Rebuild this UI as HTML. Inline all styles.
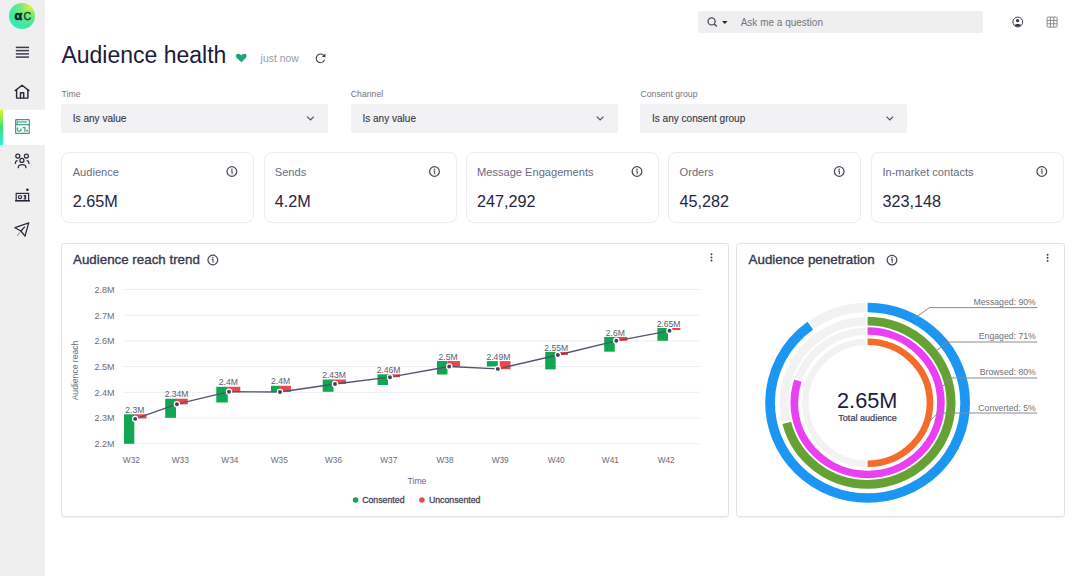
<!DOCTYPE html>
<html><head><meta charset="utf-8"><title>Audience health</title>
<style>
*{margin:0;padding:0;box-sizing:border-box}
html,body{width:1080px;height:576px;overflow:hidden;background:#fff}
body{position:relative;font-family:"Liberation Sans",sans-serif;color:#1e1e3a}
.a{position:absolute;white-space:nowrap;line-height:1}
#side{position:absolute;left:0;top:0;width:45px;height:576px;background:#efefef}
#active{position:absolute;left:0;top:109.5px;width:45px;height:35px;background:#fff}
#activebar{position:absolute;left:0;top:109.5px;width:2.5px;height:35px;background:linear-gradient(#e2f51e,#36e27a 50%,#2ef0dc)}
#logo{position:absolute;left:9.2px;top:3px;width:25.6px;height:25.6px;border-radius:50%;background:radial-gradient(circle at 80% 15%,#d8f040 0%,#6ee880 35%,#3ee8a8 65%,#30ecc4 100%)}
.search{position:absolute;left:698px;top:11px;width:285px;height:22px;background:#efeff0;border-radius:2px}
.dd{position:absolute;top:104px;width:267px;height:29px;background:#f2f2f5;border-radius:1px}
.lbl{font-size:8.7px;color:#75757c}
.ddt{font-size:10.05px;color:#38383e;-webkit-text-stroke:0.12px #38383e}
.card{position:absolute;top:151.5px;width:193px;height:71px;border:1px solid #ededf1;border-radius:8px;background:#fff}
.kl{font-size:11.1px;color:#6a6a80}
.kv{font-size:16.2px;color:#262640}
.panel{position:absolute;top:243px;height:273.8px;border:1.5px solid #e4e4e6;border-radius:3.5px;background:#fff;box-shadow:0 0.6px 0.8px rgba(0,0,0,0.05)}
.pt{font-size:13.35px;color:#36364e;-webkit-text-stroke:0.35px #36364e}
</style></head><body>

<div id="side"></div>
<div id="active"></div>
<div id="activebar"></div>
<div id="logo"></div>

<div class="search"></div>
<div class="a" style="left:740.7px;top:18.2px;font-size:10px;color:#74747f">Ask me a question</div>

<div class="a" style="left:61.4px;top:44.3px;font-size:23px;color:#1c1c3a">Audience health</div>
<div class="a" style="left:260.6px;top:53.5px;font-size:10.4px;color:#9c9ca2">just now</div>

<div class="a lbl" style="left:61.6px;top:89.8px">Time</div>
<div class="a lbl" style="left:350.8px;top:89.8px">Channel</div>
<div class="a lbl" style="left:640.5px;top:89.8px">Consent group</div>
<div class="dd" style="left:61px"></div>
<div class="dd" style="left:350.6px"></div>
<div class="dd" style="left:640.3px"></div>
<div class="a ddt" style="left:72.8px;top:114.4px">Is any value</div>
<div class="a ddt" style="left:362.4px;top:114.4px">Is any value</div>
<div class="a ddt" style="left:652px;top:114.4px">Is any consent group</div>

<div class="card" style="left:61px"></div>
<div class="card" style="left:263.7px"></div>
<div class="card" style="left:465.7px"></div>
<div class="card" style="left:668.4px"></div>
<div class="card" style="left:871.3px"></div>
<div class="a kl" style="left:72.7px;top:166.6px">Audience</div>
<div class="a kv" style="left:72.7px;top:192.9px">2.65M</div>
<div class="a kl" style="left:274.8px;top:166.6px">Sends</div>
<div class="a kv" style="left:274.8px;top:192.9px">4.2M</div>
<div class="a kl" style="left:477px;top:166.6px">Message Engagements</div>
<div class="a kv" style="left:477px;top:192.9px">247,292</div>
<div class="a kl" style="left:679.6px;top:166.6px">Orders</div>
<div class="a kv" style="left:679.6px;top:192.9px">45,282</div>
<div class="a kl" style="left:882.4px;top:166.6px">In-market contacts</div>
<div class="a kv" style="left:882.4px;top:192.9px">323,148</div>

<div class="panel" style="left:60.6px;width:668px"></div>
<div class="panel" style="left:736px;width:329px"></div>
<div class="a pt" style="left:73px;top:253.1px">Audience reach trend</div>
<div class="a pt" style="left:748.6px;top:253.1px">Audience penetration</div>

<svg class="a" style="left:0;top:0" width="1080" height="576" viewBox="0 0 1080 576">
<style>.ax{font-size:8.6px;fill:#6b6b78}.ay{font-size:9px;fill:#6b6b78}.axw{font-size:8.3px;fill:#6b6b78}.vl{font-size:8.6px;fill:#5c5c70}.dl{font-size:8.7px;fill:#707074}.lg{font-size:8.75px;fill:#45455a;stroke:#45455a;stroke-width:0.3}text{font-family:"Liberation Sans",sans-serif}</style>
<defs>
<g id="info"><circle r="4.85" fill="none" stroke="#484858" stroke-width="1.25"/><circle cx="0" cy="-2.2" r="0.8" fill="#484858"/><path d="M-1.1,-0.5 H0.2 V2.7" fill="none" stroke="#484858" stroke-width="1.05"/></g>
</defs>
<use href="#info" x="231.9" y="171.5"/>
<use href="#info" x="434.5" y="171.5"/>
<use href="#info" x="637" y="171.5"/>
<use href="#info" x="839.2" y="171.5"/>
<use href="#info" x="1041.8" y="171.5"/>
<use href="#info" x="212.8" y="260"/>
<use href="#info" x="892" y="260.1"/>
<!-- chevrons -->
<g fill="none" stroke="#505058" stroke-width="1.2">
<polyline points="307.2,116.6 310.5,119.9 313.8,116.6"/>
<polyline points="596.8,116.6 600.1,119.9 603.4,116.6"/>
<polyline points="886.5,116.6 889.8,119.9 893.1,116.6"/>
</g>
<!-- heart -->
<path d="M241.3,62.3 L237,58.2 C235.4,56.7 235.6,54.1 237.9,53.8 C239.4,53.6 240.7,54.5 241.3,55.5 C241.9,54.5 243.2,53.6 244.7,53.8 C247,54.1 247.2,56.7 245.6,58.2 Z" fill="#1fa574"/>
<!-- refresh -->
<g fill="none" stroke="#3a3a48" stroke-width="1.05">
<path d="M324.2,56.2 A4.3,4.3 0 1 0 324.6,59.6"/>
</g>
<path d="M325.4,53.6 L325.4,57.2 L322,56.8 Z" fill="#3a3a48"/>
<!-- search -->
<circle cx="711.6" cy="21.4" r="3.5" fill="none" stroke="#4a4a58" stroke-width="1.3"/>
<line x1="714.2" y1="24" x2="716.8" y2="26.6" stroke="#4a4a58" stroke-width="1.4"/>
<path d="M722,21 L727.6,21 L724.8,24 Z" fill="#2a2a38"/>
<!-- user -->
<circle cx="1017.8" cy="22" r="4.9" fill="none" stroke="#3a3a4c" stroke-width="1"/>
<circle cx="1017.6" cy="20.6" r="1.7" fill="#3a3a4c"/>
<path d="M1014.6,25.2 C1015.4,23.6 1020.2,23.6 1021,25.2 A4.6,4.6 0 0 1 1014.6,25.2 Z" fill="#3a3a4c"/>
<!-- grid -->
<g fill="none" stroke="#6a6a74" stroke-width="0.75">
<rect x="1047.1" y="17.1" width="10" height="10" rx="0.8"/>
<line x1="1050.43" y1="17.1" x2="1050.43" y2="27.1"/><line x1="1053.77" y1="17.1" x2="1053.77" y2="27.1"/>
<line x1="1047.1" y1="20.43" x2="1057.1" y2="20.43"/><line x1="1047.1" y1="23.77" x2="1057.1" y2="23.77"/>
</g>
<!-- logo text -->
<text x="14.4" y="20.2" style="font-size:12.5px;font-weight:bold;fill:#0a1c2c;stroke:#0a1c2c;stroke-width:0.6">&#945;</text>
<text x="23.4" y="20.1" style="font-size:10.6px;fill:#0b4a36;stroke:#0b4a36;stroke-width:0.45">C</text>
<!-- hamburger -->
<g stroke="#3a3a55" stroke-width="1.5">
<line x1="15.8" y1="47.4" x2="29" y2="47.4"/><line x1="15.8" y1="50.6" x2="29" y2="50.6"/><line x1="15.8" y1="53.9" x2="29" y2="53.9"/><line x1="15.8" y1="57.1" x2="29" y2="57.1"/>
</g>
<!-- home -->
<g fill="none" stroke="#2a2a3e" stroke-width="1.45" stroke-linejoin="round" stroke-linecap="round">
<path d="M15.2,90.6 L22.07,85.3 L28.9,90.6"/>
<path d="M16.6,89.6 V98.1 H27.9 V89.6"/>
<path d="M20.5,98.1 V92.7 H23.7 V98.1"/>
</g>
<!-- dashboard (active) -->
<g fill="none" stroke="#3c9e84" stroke-width="1.2">
<rect x="15.6" y="119.6" width="13.7" height="13.7" rx="0.6"/>
<line x1="15.6" y1="124.7" x2="29.3" y2="124.7"/>
<line x1="18.2" y1="122" x2="26.9" y2="122"/>
<line x1="17.2" y1="120.6" x2="17.2" y2="124.6"/>
<path d="M18.2,127.6 A1.9,1.9 0 1 0 20.8,128.4"/>
<path d="M22.6,127.7 H24.9 V131.7"/>
<rect x="26.3" y="129.8" width="1.5" height="1.8" fill="#3c9e84" stroke="none"/>
</g>
<!-- audience -->
<g fill="none" stroke="#2a2a3e" stroke-width="1.25" stroke-linecap="round">
<circle cx="17.8" cy="156" r="2"/><circle cx="26.4" cy="156" r="2"/><circle cx="21.9" cy="160.4" r="2"/>
<path d="M15.3,163.4 C15.3,161.8 16,160.9 17.2,160.7"/>
<path d="M29,163.4 C29,161.8 28.3,160.9 27.1,160.7"/>
<path d="M18.3,167.7 C18.3,165.6 19.8,164.6 22.1,164.6 C24.4,164.6 26,165.6 26,167.7"/>
</g>
<!-- campaign -->
<g fill="none" stroke="#2a2a3e" stroke-width="1.2">
<rect x="16.2" y="193.4" width="12.4" height="7.2"/>
<line x1="15" y1="200.8" x2="30" y2="200.8" stroke-width="1.4"/>
<circle cx="20" cy="197.1" r="1.6"/>
<path d="M23.6,195.6 H25.5 V198.8 H23.6 M24.2,197.2 H25.5"/>
</g>
<circle cx="27.4" cy="189.7" r="1.3" fill="#1e1e2e"/>
<!-- send -->
<g fill="none" stroke="#2a2a3e" stroke-width="1.3" stroke-linejoin="round" stroke-linecap="round">
<path d="M28.7,222.9 L15,227.7 L20.9,231 L25,236.2 Z"/>
<line x1="20.9" y1="231" x2="24.5" y2="227.1"/>
</g>
<line x1="17.5" y1="235.3" x2="19.6" y2="232.9" stroke="#9a9aa8" stroke-width="1.1" stroke-linecap="round"/>
<line x1="124" y1="289.6" x2="699.6" y2="289.6" stroke="#eeeef1" stroke-width="1"/>
<line x1="124" y1="315.3" x2="699.6" y2="315.3" stroke="#eeeef1" stroke-width="1"/>
<line x1="124" y1="341.0" x2="699.6" y2="341.0" stroke="#eeeef1" stroke-width="1"/>
<line x1="124" y1="366.6" x2="699.6" y2="366.6" stroke="#eeeef1" stroke-width="1"/>
<line x1="124" y1="392.3" x2="699.6" y2="392.3" stroke="#eeeef1" stroke-width="1"/>
<line x1="124" y1="418.0" x2="699.6" y2="418.0" stroke="#eeeef1" stroke-width="1"/>
<line x1="124" y1="443.7" x2="699.6" y2="443.7" stroke="#eeeef1" stroke-width="1"/>
<text x="114.5" y="293.0" text-anchor="end" class="ay">2.8M</text>
<text x="114.5" y="318.7" text-anchor="end" class="ay">2.7M</text>
<text x="114.5" y="344.4" text-anchor="end" class="ay">2.6M</text>
<text x="114.5" y="370.0" text-anchor="end" class="ay">2.5M</text>
<text x="114.5" y="395.7" text-anchor="end" class="ay">2.4M</text>
<text x="114.5" y="421.4" text-anchor="end" class="ay">2.3M</text>
<text x="114.5" y="447.1" text-anchor="end" class="ay">2.2M</text>
<rect x="124" y="414.3" width="10.3" height="29.5" fill="#10a652"/>
<rect x="134.3" y="414.3" width="12.2" height="4.2" fill="#ec474d"/>
<text x="131.4" y="462.9" text-anchor="middle" class="axw">W32</text>
<text x="134.9" y="412.9" text-anchor="middle" class="vl">2.3M</text>
<rect x="165.2" y="398.7" width="10.8" height="19.1" fill="#10a652"/>
<rect x="176" y="398.7" width="11.8" height="5.7" fill="#ec474d"/>
<text x="180.3" y="462.9" text-anchor="middle" class="axw">W33</text>
<text x="176.6" y="397.3" text-anchor="middle" class="vl">2.34M</text>
<rect x="216.3" y="386.8" width="11.5" height="15.7" fill="#10a652"/>
<rect x="227.8" y="386.8" width="12.5" height="5.4" fill="#ec474d"/>
<text x="229.9" y="462.9" text-anchor="middle" class="axw">W34</text>
<text x="228.4" y="385.4" text-anchor="middle" class="vl">2.4M</text>
<rect x="271" y="385.8" width="9.0" height="6.2" fill="#10a652"/>
<rect x="280" y="385.8" width="11.0" height="6.0" fill="#ec474d"/>
<text x="279.3" y="462.9" text-anchor="middle" class="axw">W35</text>
<text x="280.6" y="384.4" text-anchor="middle" class="vl">2.4M</text>
<rect x="322.7" y="379.5" width="10.8" height="12.3" fill="#10a652"/>
<rect x="333.5" y="379.5" width="12.5" height="4.5" fill="#ec474d"/>
<text x="333.5" y="462.9" text-anchor="middle" class="axw">W36</text>
<text x="334.1" y="378.1" text-anchor="middle" class="vl">2.43M</text>
<rect x="377.5" y="374.3" width="10.5" height="10.7" fill="#10a652"/>
<rect x="388" y="374.3" width="12.0" height="2.9" fill="#ec474d"/>
<text x="388.8" y="462.9" text-anchor="middle" class="axw">W37</text>
<text x="388.6" y="372.9" text-anchor="middle" class="vl">2.46M</text>
<rect x="437" y="361" width="10.5" height="13.5" fill="#10a652"/>
<rect x="447.5" y="361" width="12.5" height="5.5" fill="#ec474d"/>
<text x="445.0" y="462.9" text-anchor="middle" class="axw">W38</text>
<text x="448.1" y="359.6" text-anchor="middle" class="vl">2.5M</text>
<rect x="486.9" y="361.1" width="10.9" height="5.4" fill="#10a652"/>
<rect x="499.8" y="361.1" width="10.7" height="8.1" fill="#ec474d"/>
<text x="500.2" y="462.9" text-anchor="middle" class="axw">W39</text>
<text x="498.4" y="359.7" text-anchor="middle" class="vl">2.49M</text>
<rect x="545.2" y="351.9" width="10.5" height="17.5" fill="#10a652"/>
<rect x="555.7" y="351.9" width="12.3" height="3.1" fill="#ec474d"/>
<text x="556.2" y="462.9" text-anchor="middle" class="axw">W40</text>
<text x="556.3" y="350.5" text-anchor="middle" class="vl">2.55M</text>
<rect x="604.2" y="336.9" width="10.6" height="14.8" fill="#10a652"/>
<rect x="614.8" y="336.9" width="12.5" height="3.9" fill="#ec474d"/>
<text x="610.4" y="462.9" text-anchor="middle" class="axw">W41</text>
<text x="615.4" y="335.5" text-anchor="middle" class="vl">2.6M</text>
<rect x="657.4" y="328" width="10.6" height="12.8" fill="#10a652"/>
<rect x="668" y="328" width="12.4" height="2.0" fill="#ec474d"/>
<text x="666.2" y="462.9" text-anchor="middle" class="axw">W42</text>
<text x="668.6" y="326.6" text-anchor="middle" class="vl">2.65M</text>
<polyline points="135.2,418.9 176.9,404.2 229,391.7 280,392 335,384 390,377.2 449.2,366.5 497.8,368.9 557.9,355 616.3,340.8 669.5,330.8" fill="none" stroke="#53536f" stroke-width="1.35" stroke-linejoin="round"/>
<circle cx="135.2" cy="418.9" r="2.6" fill="#42425e" stroke="#fff" stroke-width="1.3"/>
<circle cx="176.9" cy="404.2" r="2.6" fill="#42425e" stroke="#fff" stroke-width="1.3"/>
<circle cx="229" cy="391.7" r="2.6" fill="#42425e" stroke="#fff" stroke-width="1.3"/>
<circle cx="280" cy="392" r="2.6" fill="#42425e" stroke="#fff" stroke-width="1.3"/>
<circle cx="335" cy="384" r="2.6" fill="#42425e" stroke="#fff" stroke-width="1.3"/>
<circle cx="390" cy="377.2" r="2.6" fill="#42425e" stroke="#fff" stroke-width="1.3"/>
<circle cx="449.2" cy="366.5" r="2.6" fill="#42425e" stroke="#fff" stroke-width="1.3"/>
<circle cx="497.8" cy="368.9" r="2.6" fill="#42425e" stroke="#fff" stroke-width="1.3"/>
<circle cx="557.9" cy="355" r="2.6" fill="#42425e" stroke="#fff" stroke-width="1.3"/>
<circle cx="616.3" cy="340.8" r="2.6" fill="#42425e" stroke="#fff" stroke-width="1.3"/>
<circle cx="669.5" cy="330.8" r="2.6" fill="#42425e" stroke="#fff" stroke-width="1.3"/>
<g transform="translate(867.6,402.75) scale(1.023,1)">
<circle r="95.35" fill="none" stroke="#f2f2f2" stroke-width="9.5" pathLength="100" stroke-dasharray="0 90.33 9.33 100" transform="rotate(-90)"/>
<circle r="81.55" fill="none" stroke="#f2f2f2" stroke-width="8.8" pathLength="100" stroke-dasharray="0 71.39 28.22 100" transform="rotate(-90)"/>
<circle r="71.65" fill="none" stroke="#f2f2f2" stroke-width="7.5" pathLength="100" stroke-dasharray="0 80.44 19.11 100" transform="rotate(-90)"/>
<circle r="60.95" fill="none" stroke="#f2f2f2" stroke-width="6.5" pathLength="100" stroke-dasharray="0 50.52 48.96 100" transform="rotate(-90)"/>
<circle r="95.35" fill="none" stroke="#1b97f3" stroke-width="9.5" pathLength="100" stroke-dasharray="90 100" transform="rotate(-90)"/>
<circle r="81.55" fill="none" stroke="#65a233" stroke-width="8.8" pathLength="100" stroke-dasharray="71 100" transform="rotate(-90)"/>
<circle r="71.65" fill="none" stroke="#ea3ff2" stroke-width="7.5" pathLength="100" stroke-dasharray="80 100" transform="rotate(-90)"/>
<circle r="60.95" fill="none" stroke="#f46b2b" stroke-width="6.5" pathLength="100" stroke-dasharray="50 100" transform="rotate(-90)"/>
</g>
<g fill="none" stroke="#8a8a8e" stroke-width="1">
<polyline points="914.7,318.2 929.4,307.6 1037.3,307.6"/>
<polyline points="936,351 947.4,342 1037.3,342"/>
<polyline points="943,386 951.5,378 1037.3,378"/>
<polyline points="929.9,420.9 937.8,413 1037.3,413"/>
</g>
<text x="1035.8" y="305.4" text-anchor="end" class="dl">Messaged: 90%</text>
<text x="1035.8" y="338.5" text-anchor="end" class="dl">Engaged: 71%</text>
<text x="1035.8" y="375.3" text-anchor="end" class="dl">Browsed: 80%</text>
<text x="1035.8" y="410.7" text-anchor="end" class="dl">Converted: 5%</text>
<text x="867.2" y="407.7" text-anchor="middle" style="font-size:21.7px;fill:#1c1c3a">2.65M</text>
<text x="867.6" y="420.7" text-anchor="middle" style="font-size:9.1px;fill:#3a3a52;stroke:#3a3a52;stroke-width:0.2">Total audience</text>
<!-- axis titles -->
<text x="0" y="0" transform="translate(77.8,370.5) rotate(-90)" text-anchor="middle" class="ax">Audience reach</text>
<text x="417" y="483.6" text-anchor="middle" class="ax">Time</text>
<circle cx="355.6" cy="500" r="2.8" fill="#10a652"/>
<text x="362.2" y="502.9" class="lg">Consented</text>
<circle cx="421.9" cy="500" r="2.8" fill="#ec474d"/>
<text x="428.9" y="502.9" class="lg">Unconsented</text>
<!-- kebabs -->
<g fill="#3a3a48">
<circle cx="711.5" cy="254.3" r="0.95"/><circle cx="711.5" cy="257.4" r="0.95"/><circle cx="711.5" cy="260.5" r="0.95"/>
<circle cx="1047.6" cy="254.7" r="0.95"/><circle cx="1047.6" cy="257.8" r="0.95"/><circle cx="1047.6" cy="260.9" r="0.95"/>
</g>
</svg>

</body></html>
